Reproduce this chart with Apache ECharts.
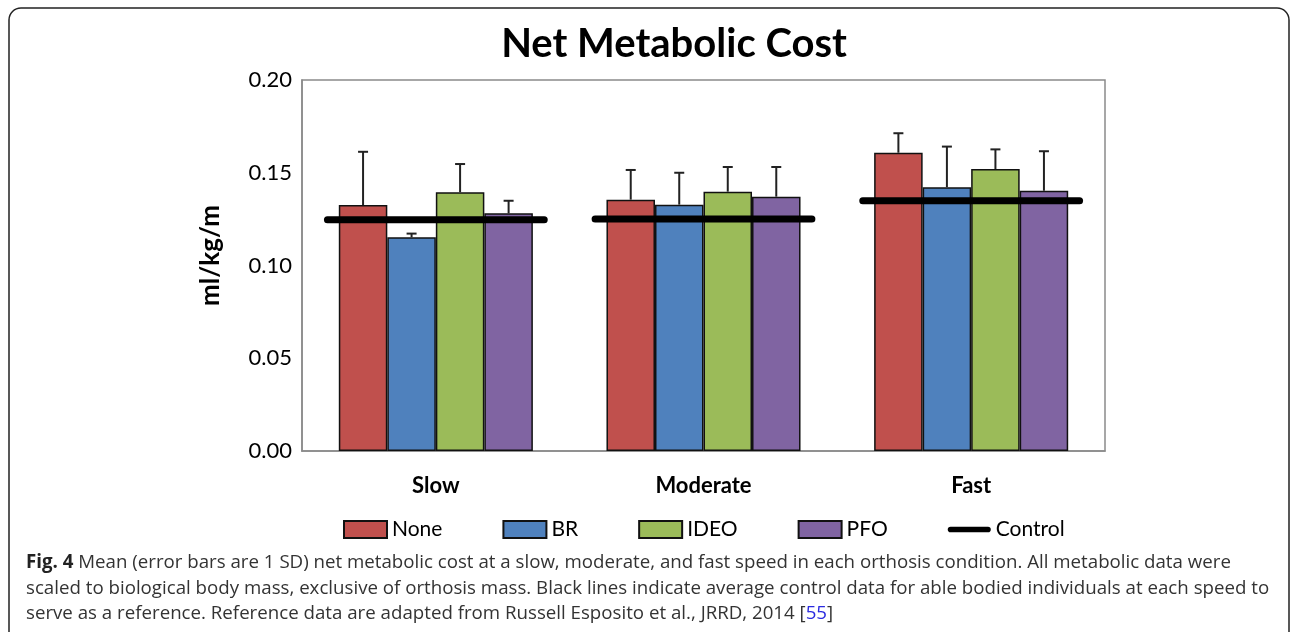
<!DOCTYPE html>
<html>
<head>
<meta charset="utf-8">
<script src="https://cdn.jsdelivr.net/npm/echarts@6/dist/echarts.min.js"></script>
<style>html,body{margin:0;padding:0;background:#fff;}#c{width:1292px;height:632px;}</style>
</head>
<body>
<div id="c"></div>
<script>
var categories = ['Slow', 'Moderate', 'Fast'];
var seriesNames = ['None', 'BR', 'IDEO', 'PFO'];
var noneMean = [0.1326, 0.1355, 0.1608];
var noneSD   = [0.0287, 0.0160, 0.0105];
var brMean   = [0.1152, 0.1328, 0.1422];
var brSD     = [0.0020, 0.0172, 0.0219];
var ideoMean = [0.1395, 0.1398, 0.1520];
var ideoSD   = [0.0152, 0.0133, 0.0106];
var pfoMean  = [0.1281, 0.1371, 0.1403];
var pfoSD    = [0.0068, 0.0160, 0.0213];
var control  = [0.1247, 0.1251, 0.1349];
var yTicks = [0, 0.05, 0.10, 0.15, 0.20];

var colors = ['#C0504D', '#4F81BD', '#9BBB59', '#8064A2'];
var means = [noneMean, brMean, ideoMean, pfoMean];
var sds = [noneSD, brSD, ideoSD, pfoSD];
var GAP = 0.275;
var FONT = 'Lato, "Open Sans", sans-serif';
var CAPFONT = '"Open Sans", sans-serif';
var CAPSIZE = 18.7;

var series = [];
seriesNames.forEach(function (n, i) {
  series.push({
    name: n, type: 'bar', data: means[i],
    barGap: '0%', barCategoryGap: (GAP * 100) + '%',
    itemStyle: { color: colors[i], borderColor: '#111', borderWidth: 1.5 },
    z: 2
  });
});
var errData = [];
seriesNames.forEach(function (n, i) {
  categories.forEach(function (c, k) { errData.push([k, i, means[i][k], sds[i][k]]); });
});
series.push({
  type: 'custom', name: 'err', data: errData, z: 3, silent: true,
  encode: { x: 0, y: 2 },
  renderItem: function (params, api) {
    var k = api.value(0), i = api.value(1), m = api.value(2), s = api.value(3);
    var base = api.coord([k, m]);
    var top = api.coord([k, m + s]);
    var bandW = api.size([1, 0])[0];
    var bw = bandW * (1 - GAP) / 4;
    var x = base[0] - bandW * (1 - GAP) / 2 + bw * (i + 0.5);
    var st = { stroke: '#222', lineWidth: 2 };
    return { type: 'group', children: [
      { type: 'line', shape: { x1: x, y1: base[1], x2: x, y2: top[1] }, style: st },
      { type: 'line', shape: { x1: x - 5, y1: top[1], x2: x + 5, y2: top[1] }, style: st }
    ]};
  }
});
series.push({
  type: 'custom', name: 'Control', data: control.map(function (v, k) { return [k, v]; }), z: 4,
  itemStyle: { color: '#000' },
  encode: { x: 0, y: 1 },
  renderItem: function (params, api) {
    var p = api.coord([api.value(0), api.value(1)]);
    var bandW = api.size([1, 0])[0];
    var hw = bandW * 0.405;
    return { type: 'line', shape: { x1: p[0] - hw, y1: p[1], x2: p[0] + hw, y2: p[1] },
      style: { stroke: '#000', lineWidth: 7, lineCap: 'round' } };
  }
});

var caption = [
  '{b|Fig. 4} Mean (error bars are 1 SD) net metabolic cost at a slow, moderate, and fast speed in each orthosis condition. All metabolic data were',
  'scaled to biological body mass, exclusive of orthosis mass. Black lines indicate average control data for able bodied individuals at each speed to',
  'serve as a reference. Reference data are adapted from Russell Esposito et al., JRRD, 2014 [{l|55}]'
];

var chart = echarts.init(document.getElementById('c'));
chart.setOption({
  backgroundColor: '#fff',
  animation: false,
  textStyle: { fontFamily: FONT },
  title: {
    text: 'Net Metabolic Cost', left: 669, top: 19, textAlign: 'center',
    textStyle: { fontFamily: FONT, fontWeight: 'bold', fontSize: 40, color: '#000' }
  },
  grid: { left: 302, right: 187, top: 80, bottom: 181, show: true, borderColor: '#8a8a8a', borderWidth: 1.5 },
  legend: {
    left: 338, top: 514, itemGap: 60, itemWidth: 43, itemHeight: 17,
    textStyle: { fontFamily: FONT, fontSize: 21, color: '#000' },
    data: [
      { name: 'None', icon: 'rect' }, { name: 'BR', icon: 'rect' },
      { name: 'IDEO', icon: 'rect' }, { name: 'PFO', icon: 'rect' },
      { name: 'Control', icon: 'path://M3,0 L43,0 A3,3 0 0 1 43,6 L3,6 A3,3 0 0 1 3,0 Z', itemStyle: { color: '#000' } }
    ]
  },
  xAxis: {
    type: 'category', data: categories,
    axisLine: { show: true, lineStyle: { color: '#8a8a8a', width: 1.5 } },
    axisTick: { show: false },
    axisLabel: { margin: 24, fontFamily: FONT, fontWeight: 'bold', fontSize: 22, color: '#000' }
  },
  yAxis: {
    type: 'value', min: 0, max: 0.2, interval: 0.05,
    name: 'ml/kg/m', nameLocation: 'middle', nameGap: 78,
    nameTextStyle: { fontFamily: FONT, fontWeight: 'bold', fontSize: 26, color: '#000', padding: [0, 0, 0, 20] },
    splitLine: { show: false },
    axisLine: { show: true, lineStyle: { color: '#8a8a8a', width: 1.5 } },
    axisTick: { show: false },
    axisLabel: { margin: 10, fontFamily: FONT, fontSize: 22, color: '#000',
      formatter: function (v) { return v.toFixed(2); } }
  },
  graphic: [
    { type: 'rect', shape: { x: 9, y: 8, width: 1280, height: 660, r: 12 },
      style: { fill: 'none', stroke: '#222', lineWidth: 1.5 }, silent: true },
    { type: 'text', x: 26, y: 563, style: { text: caption[0], font: CAPSIZE + 'px ' + CAPFONT, fill: '#333', verticalAlign: 'middle',
      rich: { b: { fontWeight: 'bold', fontSize: CAPSIZE, fontFamily: CAPFONT, fill: '#222' } } } },
    { type: 'text', x: 26, y: 589, style: { text: caption[1], font: CAPSIZE + 'px ' + CAPFONT, fill: '#333', verticalAlign: 'middle' } },
    { type: 'text', x: 26, y: 614, style: { text: caption[2], font: CAPSIZE + 'px ' + CAPFONT, fill: '#333', verticalAlign: 'middle',
      rich: { l: { fill: '#2a2ae0', fontSize: CAPSIZE, fontFamily: CAPFONT } } } }
  ],
  series: series
});
</script>
</body>
</html>
